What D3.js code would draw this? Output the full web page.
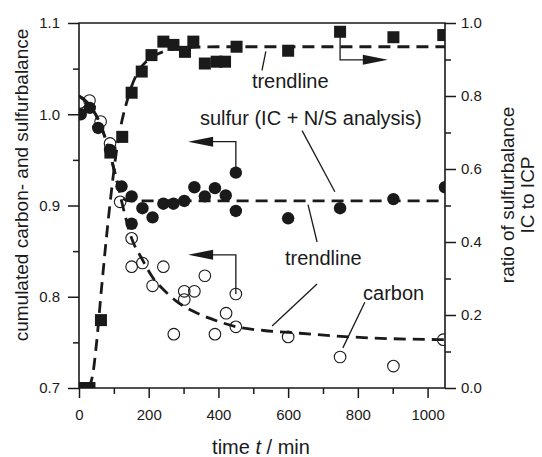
<!DOCTYPE html>
<html>
<head>
<meta charset="utf-8">
<script src="https://cdn.jsdelivr.net/npm/d3@7"></script>
<style>
  body { margin: 0; background: #fff; }
  text { font-family: "Liberation Sans", Arial, sans-serif; fill: #1a1a1a; }
</style>
</head>
<body>
<div id="chart"></div>
<script>
// ratio IC/ICP (right axis), filled squares
const ratioT = [14, 30, 63, 90, 124, 151, 180, 208, 242, 271, 304, 328, 361, 395, 419, 452, 600, 749, 902, 1045];
const ratioV = [0, 0, 0.186, 0.645, 0.688, 0.809, 0.867, 0.912, 0.949, 0.940, 0.921, 0.949, 0.889, 0.894, 0.894, 0.935, 0.924, 0.976, 0.961, 0.967];

// sulfur balance (left axis), filled circles
const sulfurT = [5, 31, 55, 89, 122, 151, 151, 182, 211, 242, 271, 302, 331, 361, 390, 421, 450, 450, 600, 749, 902, 1050];
const sulfurV = [1.0, 1.007, 0.985, 0.961, 0.921, 0.910, 0.880, 0.897, 0.887, 0.902, 0.902, 0.905, 0.920, 0.910, 0.919, 0.911, 0.936, 0.894, 0.886, 0.897, 0.907, 0.920];

// carbon balance (left axis), open circles
const carbonT = [3, 30, 62, 89, 118, 151, 151, 182, 211, 242, 272, 302, 302, 331, 361, 390, 422, 450, 450, 600, 749, 902, 1045];
const carbonV = [1.013, 1.015, 0.992, 0.968, 0.904, 0.864, 0.833, 0.837, 0.812, 0.833, 0.759, 0.806, 0.797, 0.806, 0.823, 0.759, 0.782, 0.803, 0.767, 0.756, 0.734, 0.724, 0.753];

// trendlines
const ratioTrendT = [28, 40, 50, 65, 85, 108, 141, 169, 198, 241, 300, 400, 1050];
const ratioTrendV = [0, 0.04, 0.12, 0.277, 0.47, 0.652, 0.797, 0.866, 0.899, 0.921, 0.932, 0.935, 0.935];
const sulfurTrendT = [0, 30, 60, 90, 110, 125, 145, 1050];
const sulfurTrendV = [1.02, 1.01, 0.99, 0.955, 0.925, 0.908, 0.905, 0.905];
const carbonTrendT = [0, 30, 60, 90, 110, 122, 151, 180, 210, 250, 280, 328, 385, 452, 530, 634, 777, 900, 1050];
const carbonTrendV = [1.02, 1.01, 0.99, 0.955, 0.925, 0.905, 0.864, 0.842, 0.822, 0.805, 0.795, 0.784, 0.775, 0.767, 0.763, 0.760, 0.756, 0.754, 0.753];

// tick values
const xTicks = [0, 200, 400, 600, 800, 1000];
const yLeftTicks = [0.7, 0.8, 0.9, 1.0, 1.1];
const yRightTicks = [0.0, 0.2, 0.4, 0.6, 0.8, 1.0];

const W = 542, H = 457;
const plot = { left: 79, right: 445, top: 23, bottom: 388 };
const ink = '#1a1a1a';

const svg = d3.select('#chart').append('svg')
  .attr('width', W).attr('height', H);

const x = d3.scaleLinear().domain([0, 1050]).range([plot.left, plot.right]);
const yL = d3.scaleLinear().domain([0.7, 1.1]).range([plot.bottom, plot.top]);
const yR = d3.scaleLinear().domain([0, 1]).range([plot.bottom, plot.top]);

svg.append('clipPath').attr('id', 'clip')
  .append('rect')
  .attr('x', plot.left).attr('y', plot.top)
  .attr('width', plot.right - plot.left).attr('height', plot.bottom - plot.top);

const body = svg.append('g').attr('clip-path', 'url(#clip)');

// trendlines
const trend = (ts, vs, ys) => d3.line()
  .x(i => x(ts[i])).y(i => ys(vs[i]))
  .curve(d3.curveMonotoneX)(d3.range(ts.length));

[[ratioTrendT, ratioTrendV, yR], [sulfurTrendT, sulfurTrendV, yL], [carbonTrendT, carbonTrendV, yL]]
  .forEach(([ts, vs, ys]) => {
    body.append('path')
      .attr('d', trend(ts, vs, ys))
      .attr('fill', 'none').attr('stroke', ink)
      .attr('stroke-width', 2.8).attr('stroke-dasharray', '12,7');
  });

// markers
body.selectAll('.sq').data(d3.range(ratioT.length)).enter()
  .append('rect')
  .attr('x', i => x(ratioT[i]) - 6).attr('y', i => yR(ratioV[i]) - 6)
  .attr('width', 12).attr('height', 12).attr('fill', ink);

body.selectAll('.oc').data(d3.range(carbonT.length)).enter()
  .append('circle')
  .attr('cx', i => x(carbonT[i])).attr('cy', i => yL(carbonV[i])).attr('r', 5.8)
  .attr('fill', 'none').attr('stroke', ink).attr('stroke-width', 1.1);

body.selectAll('.fc').data(d3.range(sulfurT.length)).enter()
  .append('circle')
  .attr('cx', i => x(sulfurT[i])).attr('cy', i => yL(sulfurV[i])).attr('r', 6.2)
  .attr('fill', ink);

// axes
const tickFont = g => g.selectAll('text')
  .style('font-size', '15px').style('font-family', '"Liberation Sans", Arial, sans-serif').attr('fill', ink);
const styleAxis = g => {
  g.selectAll('line, path').attr('stroke', ink).attr('stroke-width', 1.5);
  g.select('.domain').remove();
};

const xMinor = d3.range(100, 1050, 200);
svg.append('g').attr('transform', `translate(0,${plot.bottom})`)
  .call(d3.axisBottom(x).tickValues(xTicks).tickFormat(d3.format('d')).tickSize(10).tickPadding(11))
  .call(styleAxis).call(tickFont);
svg.append('g').attr('transform', `translate(0,${plot.bottom})`)
  .call(d3.axisBottom(x).tickValues(xMinor).tickFormat('').tickSize(6))
  .call(styleAxis);

svg.append('g').attr('transform', `translate(${plot.left},0)`)
  .call(d3.axisLeft(yL).tickValues(yLeftTicks).tickFormat(d3.format('.1f')).tickSize(11).tickPadding(8))
  .call(styleAxis).call(tickFont);
svg.append('g').attr('transform', `translate(${plot.left},0)`)
  .call(d3.axisLeft(yL).tickValues([0.75, 0.85, 0.95, 1.05]).tickFormat('').tickSize(6))
  .call(styleAxis);

svg.append('g').attr('transform', `translate(${plot.right},0)`)
  .call(d3.axisRight(yR).tickValues(yRightTicks).tickFormat(d3.format('.1f')).tickSize(11).tickPadding(5))
  .call(styleAxis).call(tickFont);
svg.append('g').attr('transform', `translate(${plot.right},0)`)
  .call(d3.axisRight(yR).tickValues([0.1, 0.3, 0.5, 0.7, 0.9]).tickFormat('').tickSize(6))
  .call(styleAxis);

// frame: left, bottom, right, top
svg.append('path')
  .attr('d', `M${plot.left},${plot.top}V${plot.bottom}H${plot.right}V${plot.top}Z`)
  .attr('fill', 'none').attr('stroke', ink).attr('stroke-width', 1.6);

// axis titles
svg.append('text')
  .attr('transform', 'translate(28,185) rotate(-90)')
  .attr('text-anchor', 'middle').style('font-size', '19px')
  .text('cumulated carbon- and sulfurbalance');

const rt = svg.append('text')
  .attr('transform', 'translate(514,195) rotate(-90)')
  .attr('text-anchor', 'middle').style('font-size', '19px');
rt.append('tspan').attr('x', 0).attr('dy', 0).text('ratio of sulfurbalance');
rt.append('tspan').attr('x', 0).attr('dy', 20).text('IC to ICP');

const xt = svg.append('text')
  .attr('x', 261).attr('y', 454)
  .attr('text-anchor', 'middle').style('font-size', '20px');
xt.append('tspan').text('time ');
xt.append('tspan').style('font-style', 'italic').text('t');
xt.append('tspan').text(' / min');

// annotations (data coordinates)
const annFont = '20px';
const label = (t, v, s) => svg.append('text')
  .attr('x', x(t)).attr('y', yL(v)).style('font-size', annFont).text(s);
const leader = pts => svg.append('path')
  .attr('d', d3.line()(pts.map(p => [x(p[0]), p[2] === 'R' ? yR(p[1]) : yL(p[1])])))
  .attr('fill', 'none').attr('stroke', ink).attr('stroke-width', 1.3);
const head = (t, py, dir) => {
  const px = x(t);
  const len = 25, hw = 5;
  svg.append('path')
    .attr('d', `M${px},${py}L${px - dir * len},${py - hw}L${px - dir * len},${py + hw}Z`)
    .attr('fill', ink);
};

label(496, 1.029, 'trendline');
leader([[525, 1.048], [536, 1.069]]);

// arrow to right axis
leader([[749, 0.976, 'R'], [749, 0.899, 'R'], [870, 0.899, 'R']]);
head(886, yR(0.899), 1);

label(347, 0.988, 'sulfur (IC + N/S analysis)');
leader([[640, 0.982], [734, 0.915]]);

leader([[450, 0.936], [450, 0.970], [330, 0.970]]);
head(313, yL(0.970), -1);

label(591, 0.835, 'trendline');
leader([[657, 0.901], [683, 0.860]]);
leader([[683, 0.814], [554, 0.768]]);

leader([[450, 0.803], [450, 0.846], [330, 0.846]]);
head(313, yL(0.846), -1);

label(815, 0.796, 'carbon');
leader([[820, 0.794], [757, 0.744]]);
</script>
</body>
</html>
